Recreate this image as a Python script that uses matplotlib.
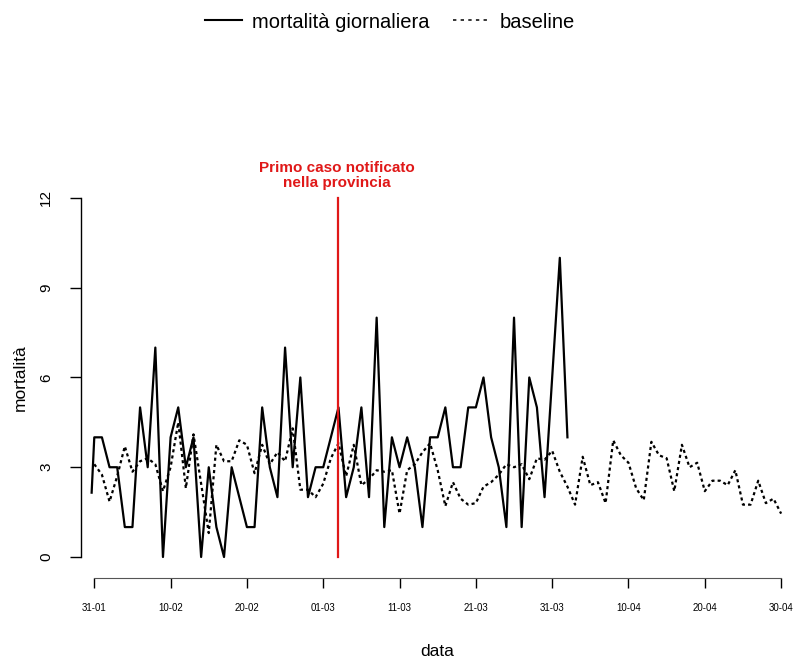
import numpy as np
import pandas as pd
import matplotlib
matplotlib.use('Agg')
import matplotlib.pyplot as plt
import matplotlib.dates as mdates
from matplotlib.lines import Line2D

plt.rcParams['font.family'] = ['Liberation Sans', 'DejaVu Sans']

# mortalità giornaliera dal 31-01 al 02-04 (il primo punto è poco prima del 31-01)
giorni_mort = [pd.Timestamp('2020-01-30 15:40')] + list(pd.date_range('2020-01-31', '2020-04-02'))
mortalita = [2.15,
             4, 4, 3, 3, 1, 1, 5, 3, 7, 0,
             4, 5, 3, 4, 0, 3, 1, 0, 3, 2,
             1, 1, 5, 3, 2, 7, 3, 6, 2, 3,
             3, 4, 5, 2, 3, 5, 2, 8, 1, 4,
             3, 4, 3, 1, 4, 4, 5, 3, 3, 5,
             5, 6, 4, 3, 1, 8, 1, 6, 5, 2,
             6, 10, 4]

# baseline dal 31-01 al 30-04
giorni_base = pd.date_range('2020-01-31', '2020-04-30')
baseline = [3.1, 2.75, 1.85, 2.7, 3.7, 2.85, 3.2, 3.3, 3.1, 2.2,
            3.0, 4.5, 2.3, 4.1, 2.45, 0.8, 3.75, 3.2, 3.2, 3.9,
            3.75, 2.8, 3.75, 3.1, 3.5, 3.2, 4.3, 2.25, 2.25, 2.0,
            2.45, 3.3, 3.8, 2.7, 3.75, 2.4, 2.6, 2.9, 2.85, 2.9,
            1.45, 2.9, 3.1, 3.5, 3.8, 2.9, 1.7, 2.5, 1.95, 1.75,
            1.8, 2.35, 2.5, 2.75, 3.1, 3.0, 3.1, 2.6, 3.3, 3.25,
            3.55, 2.85, 2.35, 1.75, 3.35, 2.4, 2.5, 1.8, 3.9, 3.4,
            3.15, 2.3, 1.9, 3.85, 3.4, 3.3, 2.2, 3.75, 3.0, 3.15,
            2.2, 2.55, 2.55, 2.4, 2.9, 1.75, 1.75, 2.55, 1.8, 1.95,
            1.45]

primo_caso = pd.Timestamp('2020-03-03')
tick_date = pd.date_range('2020-01-31', '2020-04-30', freq='10D')
y_ticks = [0, 3, 6, 9, 12]

fig = plt.figure(figsize=(7.96, 6.59), dpi=100)
ax = fig.add_axes([81/796, 1 - 578/659, 715/796, 394.4/659])

ax.plot(giorni_mort, mortalita, color='black', lw=1.6)
ax.plot(giorni_base, baseline, color='black', lw=1.6, linestyle=(0, (1.4, 1.4)))

ax.plot([primo_caso, primo_caso], [0, 12], color='#e01818', lw=1.6)
ax.text(primo_caso - pd.Timedelta(hours=6), 12.25, 'Primo caso notificato\nnella provincia', color='#e01818',
        fontsize=11, fontweight='bold', ha='center', va='bottom', linespacing=1.1)

start = mdates.date2num(pd.Timestamp('2020-01-31'))
ax.set_xlim(start - 1.741, start + 91.95)
ax.set_ylim(-0.702, 12.48)

ax.set_xticks(tick_date)
ax.xaxis.set_major_formatter(mdates.DateFormatter('%d-%m'))
ax.set_yticks(y_ticks)
ax.set_yticklabels([str(v) for v in y_ticks], rotation=90, va='center')

ax.tick_params(axis='x', labelsize=7, length=7, width=1, pad=11)
ax.tick_params(axis='y', labelsize=11, length=8, width=1, pad=12)

for s in ['top', 'right']:
    ax.spines[s].set_visible(False)
ax.spines['bottom'].set_bounds(mdates.date2num(tick_date[0]), mdates.date2num(tick_date[-1]))
ax.spines['left'].set_bounds(0, 12)
ax.spines['bottom'].set_color('#555555')
ax.spines['left'].set_linewidth(1)

fig.text(437/796, 1 - 652/659, 'data', fontsize=12.5, ha='center', va='center')
fig.text(20/796, 1 - 378/659, 'mortalità', fontsize=12.5, ha='center', va='center', rotation=90)

h1 = Line2D([], [], color='black', lw=1.5)
h2 = Line2D([], [], color='black', lw=1.1, linestyle=(0, (2.2, 2.8)))
fig.legend(handles=[h1, h2], labels=['mortalità giornaliera', 'baseline'], loc='center',
           bbox_to_anchor=(390/796, 1 - 22/659), ncol=2, frameon=False, fontsize=14.5,
           handlelength=1.85, handletextpad=0.5, columnspacing=1.15)

plt.savefig('out.png', dpi=100)
